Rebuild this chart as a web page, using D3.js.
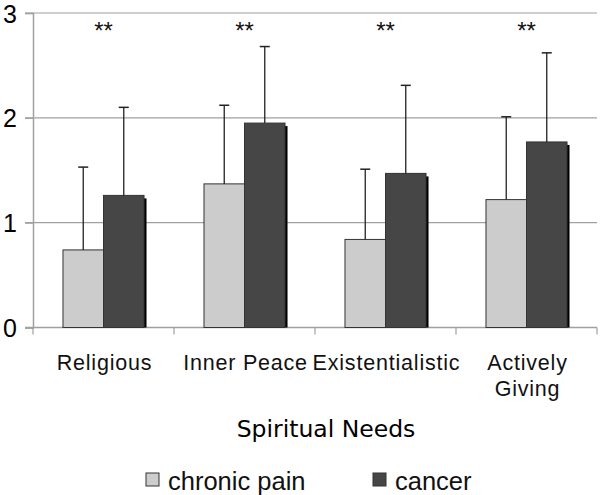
<!DOCTYPE html>
<html><head><meta charset="utf-8">
<script src="https://cdn.jsdelivr.net/npm/d3@7"></script>
<style>body{margin:0;background:#fff}svg{display:block}</style>
</head><body>
<svg id="c" width="600" height="495"></svg>
<script>
const categories = [["Religious"], ["Inner Peace"], ["Existentialistic"], ["Actively", "Giving"]];
const seriesNames = ["chronic pain", "cancer"];
const chronicPain = [0.74, 1.37, 0.84, 1.22];
const cancer = [1.26, 1.95, 1.47, 1.77];
const chronicPainErrTop = [1.53, 2.12, 1.51, 2.01];
const cancerErrTop = [2.10, 2.68, 2.31, 2.62];
const significance = ["**", "**", "**", "**"];
const yTicks = [0, 1, 2, 3];
const xTitle = "Spiritual Needs";

const svg = d3.select("#c");
const L = 33, R = 597, T = 13, B = 327.5;
const catKeys = categories.map(c => c.join(" "));
const x0 = d3.scaleBand().domain(catKeys).range([L, R]).paddingInner(0).paddingOuter(0);
const x1 = d3.scaleBand().domain(seriesNames).range([0, x0.bandwidth()]).paddingInner(0).paddingOuter(0.74);
const y = d3.scaleLinear().domain([0, 3]).range([B, T]);
const fills = {"chronic pain": "#cccccc", "cancer": "#464646"};
const vals = {"chronic pain": chronicPain, "cancer": cancer};
const errs = {"chronic pain": chronicPainErrTop, "cancer": cancerErrTop};

// gridlines
svg.append("g").selectAll("line").data(yTicks.filter(t => t > 0)).join("line")
  .attr("x1", L - 8).attr("x2", R).attr("y1", d => y(d)).attr("y2", d => y(d))
  .attr("stroke", "#a0a0a0").attr("stroke-width", 1.2);

// y axis
const yAxis = d3.axisLeft(y).tickValues(yTicks).tickFormat(d3.format("d")).tickSize(8).tickPadding(8);
const gy = svg.append("g").attr("transform", `translate(${L},0)`).call(yAxis);
gy.select(".domain").attr("stroke", "#a0a0a0").attr("stroke-width", 1.5);
gy.selectAll(".tick line").attr("stroke", "#a0a0a0").attr("stroke-width", 1.2);
gy.selectAll(".tick text").attr("font-family", "Liberation Sans, Arial, sans-serif").attr("font-size", 25).attr("fill", "#000").attr("dy", "0.36em");

// x axis
const gx = svg.append("g").attr("transform", `translate(0,${B})`)
  .call(d3.axisBottom(x0).tickSize(0).tickFormat(""));
gx.select(".domain").remove();
gx.append("line").attr("x1", L - 8).attr("x2", R).attr("stroke", "#a0a0a0").attr("stroke-width", 1.5);
gx.selectAll("line.tk").data(catKeys.concat(["_end"])).join("line").attr("class", "tk")
  .attr("x1", (d, i) => i < catKeys.length ? x0(d) : R).attr("x2", (d, i) => i < catKeys.length ? x0(d) : R)
  .attr("y1", 0).attr("y2", 7).attr("stroke", "#a0a0a0").attr("stroke-width", 1.2);

// bars
const groups = svg.append("g").selectAll("g").data(catKeys).join("g")
  .attr("transform", d => `translate(${x0(d)},0)`);
seriesNames.forEach(s => {
  groups.each(function(d, i) {
    const g = d3.select(this);
    const v = vals[s][i];
    const bx = x1(s), bw = x1.bandwidth();
    g.append("rect").attr("x", bx + 2.5).attr("y", y(v) + 3).attr("width", bw).attr("height", B - y(v) - 3)
      .attr("fill", "#000");
  });
});
seriesNames.forEach(s => {
  groups.each(function(d, i) {
    const g = d3.select(this);
    const v = vals[s][i];
    const bx = x1(s), bw = x1.bandwidth();
    g.append("rect").attr("x", bx).attr("y", y(v)).attr("width", bw).attr("height", B - y(v))
      .attr("fill", fills[s]).attr("stroke", "#333").attr("stroke-width", 1);
    const cx = bx + bw / 2;
    const e = errs[s][i];
    g.append("line").attr("x1", cx).attr("x2", cx).attr("y1", y(v)).attr("y2", y(e))
      .attr("stroke", "#222").attr("stroke-width", 1.3);
    g.append("line").attr("x1", cx - 5).attr("x2", cx + 5).attr("y1", y(e)).attr("y2", y(e))
      .attr("stroke", "#222").attr("stroke-width", 1.5);
  });
});

// significance stars
groups.append("text").attr("x", x0.bandwidth() / 2).attr("y", 39)
  .attr("text-anchor", "middle").attr("font-family", "Liberation Sans, Arial, sans-serif")
  .attr("font-size", 24).attr("fill", "#111").text((d, i) => significance[i]);

// category labels
groups.each(function(d, i) {
  const t = d3.select(this).append("text").attr("text-anchor", "middle")
    .attr("font-family", "Liberation Sans, Arial, sans-serif").attr("font-size", 21.5).attr("fill", "#111")
    .attr("letter-spacing", 0.8);
  categories[i].forEach((line, k) => {
    t.append("tspan").attr("x", x0.bandwidth() / 2 + 1).attr("y", 369.5 + k * 26).text(line);
  });
});

// axis title
svg.append("text").attr("x", 326).attr("y", 437).attr("text-anchor", "middle")
  .attr("font-family", "DejaVu Sans, sans-serif").attr("font-size", 23.5).attr("fill", "#000").text(xTitle);

// legend
const legX = [146, 373];
const leg = svg.append("g").selectAll("g").data(seriesNames).join("g")
  .attr("transform", (d, i) => `translate(${legX[i]},473)`);
leg.append("rect").attr("width", 13).attr("height", 13).attr("fill", d => fills[d])
  .attr("stroke", "#333").attr("stroke-width", 1);
leg.append("text").attr("x", 22).attr("y", 16.5).attr("font-family", "Liberation Sans, Arial, sans-serif")
  .attr("font-size", 25.5).attr("fill", "#111").text(d => d);
</script>
</body></html>
